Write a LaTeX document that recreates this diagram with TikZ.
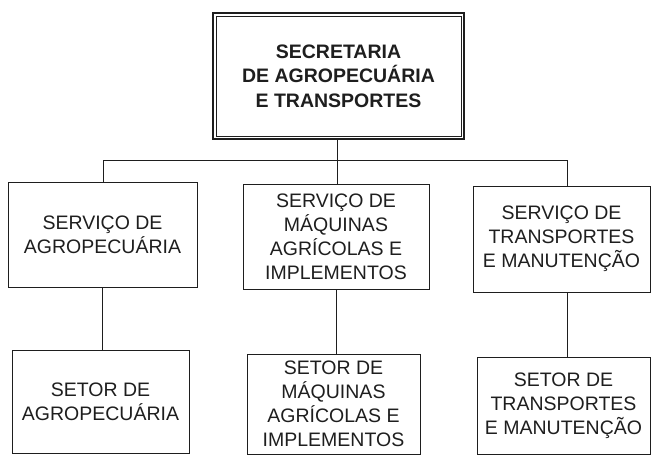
\documentclass[tikz,border=0pt]{standalone}
\usepackage{fontspec}
\setmainfont{Liberation Sans}
\definecolor{ink}{RGB}{30,30,30}
\begin{document}
\begin{tikzpicture}[x=1pt,y=1pt,
  box/.style={draw=ink, line width=1pt, align=center, inner sep=0pt, text=ink,
    font=\fontsize{19.5}{24}\selectfont},
  link/.style={draw=ink, line width=1pt}]
\useasboundingbox (0,0) rectangle (652,-456);
% top box (double frame)
\node[box, line width=1.8pt, minimum width=251pt, minimum height=126pt,
  font=\bfseries\fontsize{19.5}{24.5}\selectfont] (top) at (338.5,-76)
  {SECRETARIA\\DE AGROPECUÁRIA\\E TRANSPORTES};
\draw[ink, line width=0.8pt] ([shift={(4,-4)}]top.north west) rectangle ([shift={(-4,4)}]top.south east);
% services
\node[box, minimum width=189pt, minimum height=105pt] (srv1) at (102.5,-234.5)
  {SERVIÇO DE\\AGROPECUÁRIA};
\node[box, minimum width=186pt, minimum height=105pt] (srv2) at (336,-236.5)
  {SERVIÇO DE\\MÁQUINAS\\AGRÍCOLAS E\\IMPLEMENTOS};
\node[box, minimum width=177pt, minimum height=106pt] (srv3) at (561.5,-239)
  {SERVIÇO DE\\TRANSPORTES\\E MANUTENÇÃO};
% sectors
\node[box, minimum width=177pt, minimum height=103pt] (set1) at (100.5,-401.5)
  {SETOR DE\\AGROPECUÁRIA};
\node[box, minimum width=173pt, minimum height=100pt] (set2) at (333.5,-404)
  {SETOR DE\\MÁQUINAS\\AGRÍCOLAS E\\IMPLEMENTOS};
\node[box, minimum width=173pt, minimum height=97pt] (set3) at (563.5,-405.5)
  {SETOR DE\\TRANSPORTES\\E MANUTENÇÃO};
% bus
\coordinate (bl) at (103,-160);
\coordinate (bm) at (337,-160);
\coordinate (br) at (567,-160);
\draw[link] (top.south -| bm) -- (bm);
\draw[link] (bl |- srv1.north) -- (bl) -- (br) -- (br |- srv3.north);
\draw[link] (bm) -- (bm |- srv2.north);
% lower links
\draw[link] (srv1.south) -- (srv1.south |- set1.north);
\draw[link] (srv2.south) -- (srv2.south |- set2.north);
\draw[link] (br |- srv3.south) -- (br |- set3.north);
\end{tikzpicture}
\end{document}
